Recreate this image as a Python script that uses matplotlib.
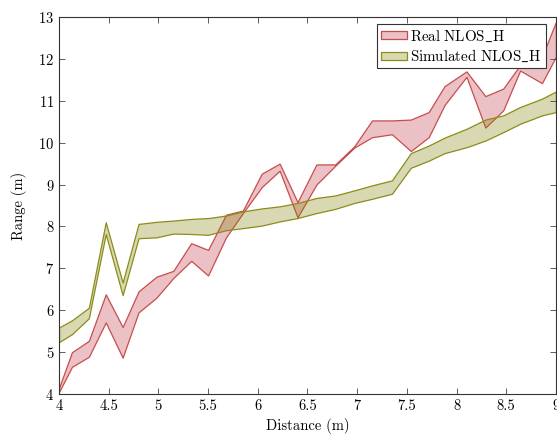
import numpy as np
import matplotlib
matplotlib.use('Agg')
import matplotlib.pyplot as plt

plt.rcParams['font.family'] = 'serif'
plt.rcParams['font.serif'] = ['cmr10']
plt.rcParams['mathtext.fontset'] = 'cm'
plt.rcParams['axes.formatter.use_mathtext'] = True

# distances
dist = [4.0, 4.13, 4.30, 4.47, 4.64, 4.80, 4.98, 5.15, 5.33, 5.50, 5.68, 5.85,
        6.04, 6.22, 6.40, 6.59, 6.78, 6.97, 7.15, 7.35, 7.54, 7.72, 7.88, 8.10,
        8.29, 8.47, 8.64, 8.86, 9.0]

real_hi = [4.15, 5.00, 5.27, 6.38, 5.60, 6.45, 6.80, 6.94, 7.60, 7.44, 8.28, 8.38,
           9.26, 9.50, 8.58, 9.48, 9.48, 9.91, 10.53, 10.53, 10.55, 10.73, 11.35, 11.70,
           11.11, 11.29, 11.85, 12.05, 12.88]
real_lo = [4.05, 4.65, 4.89, 5.71, 4.87, 5.95, 6.30, 6.77, 7.18, 6.83, 7.74, 8.32,
           8.94, 9.33, 8.22, 9.00, 9.45, 9.88, 10.13, 10.20, 9.80, 10.13, 10.90, 11.57,
           10.36, 10.77, 11.72, 11.42, 12.05]

sim_hi = [5.59, 5.76, 6.06, 8.10, 6.66, 8.06, 8.11, 8.14, 8.18, 8.20, 8.26, 8.36,
          8.43, 8.48, 8.56, 8.68, 8.74, 8.86, 8.98, 9.10, 9.75, 9.93, 10.12, 10.33,
          10.55, 10.65, 10.85, 11.05, 11.22]
sim_lo = [5.24, 5.43, 5.81, 7.82, 6.36, 7.72, 7.74, 7.83, 7.82, 7.80, 7.91, 7.96,
          8.02, 8.12, 8.20, 8.32, 8.42, 8.56, 8.66, 8.78, 9.40, 9.57, 9.75, 9.89,
          10.05, 10.25, 10.45, 10.65, 10.73]

xticks = [4, 4.5, 5, 5.5, 6, 6.5, 7, 7.5, 8, 8.5, 9]
xlabels = ['4', '4.5', '5', '5.5', '6', '6.5', '7', '7.5', '8', '8.5', '9']
yticks = list(range(4, 14))

fig = plt.figure(figsize=(5.57, 4.34), dpi=100)
ax = fig.add_axes([0.106, 0.092, 0.892, 0.869])

ax.fill_between(dist, real_lo, real_hi, facecolor=(0.75, 0.2, 0.25, 0.3),
                edgecolor=(0.78, 0.3, 0.3), linewidth=0.9,
                label=r'$\mathrm{Real\ NLOS\_H}$')
ax.fill_between(dist, sim_lo, sim_hi, facecolor=(0.5, 0.5, 0.0, 0.3),
                edgecolor=(0.55, 0.55, 0.1), linewidth=0.9,
                label=r'$\mathrm{Simulated\ NLOS\_H}$')

ax.set_xlim(4, 9)
ax.set_ylim(4, 13)
ax.set_xticks(xticks)
ax.set_xticklabels(xlabels)
ax.set_yticks(yticks)
ax.tick_params(direction='in', top=True, right=True, length=4, width=0.6,
               labelsize=10.5, color='#444444')
for s in ax.spines.values():
    s.set_linewidth(0.8)
    s.set_color('#333333')

ax.set_xlabel('Distance (m)', fontsize=10.5)
ax.set_ylabel('Range (m)', fontsize=10.5, labelpad=8)

leg = ax.legend(loc='upper right', bbox_to_anchor=(0.98, 0.981), fontsize=10.8,
                fancybox=False, framealpha=1, edgecolor='#333333',
                handlelength=1.75, handleheight=0.5, handletextpad=0.2,
                borderpad=0.28, labelspacing=0.3, borderaxespad=0)
leg.get_frame().set_linewidth(0.8)

fig.savefig('out.png', dpi=100)
